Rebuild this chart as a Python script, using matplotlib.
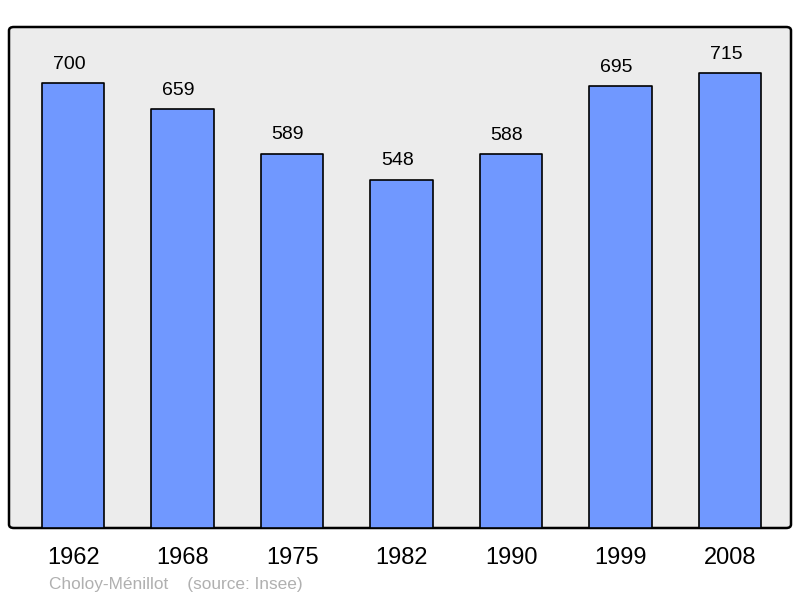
import matplotlib.pyplot as plt
from matplotlib.patches import FancyBboxPatch

plt.rcParams['font.family'] = ['Liberation Sans', 'DejaVu Sans']

years = ['1962', '1968', '1975', '1982', '1990', '1999', '2008']
population = [700, 659, 589, 548, 588, 695, 715]

fig = plt.figure(figsize=(8, 5.98), dpi=100)
ax = fig.add_axes([9/800, 70/598, 782/800, 501/598])
ax.set_facecolor('none')

x = range(len(years))
bars = ax.bar(x, population, width=0.57, color='#7098ff', edgecolor='black',
              linewidth=1.2, zorder=2)
for b in bars:
    b.set_joinstyle('round')

for xi, v in zip(x, population):
    ax.annotate(str(v), (xi, v), xytext=(-3, 7.5), textcoords='offset points',
                ha='center', va='bottom', fontsize=14)

ax.set_xlim(-0.585, 6.555)
ax.set_ylim(0, 788)
ax.set_yticks([])
ax.set_xticks(list(x))
ax.set_xticklabels(years, fontsize=17)
ax.tick_params(axis='x', length=0, pad=14)
for s in ax.spines.values():
    s.set_visible(False)

# rounded background frame
frame = FancyBboxPatch((9/800, 70/598), 782/800, 501/598,
                       boxstyle='round,pad=0,rounding_size=0.006',
                       transform=fig.transFigure, facecolor='#ececec',
                       edgecolor='black', linewidth=1.8, zorder=-1)
fig.patches.append(frame)

fig.text(49/800, 1 - 584/598, 'Choloy-Ménillot    (source: Insee)',
         fontsize=12.4, color='#b0b0b0', va='center')

fig.savefig('out.png', dpi=100)
